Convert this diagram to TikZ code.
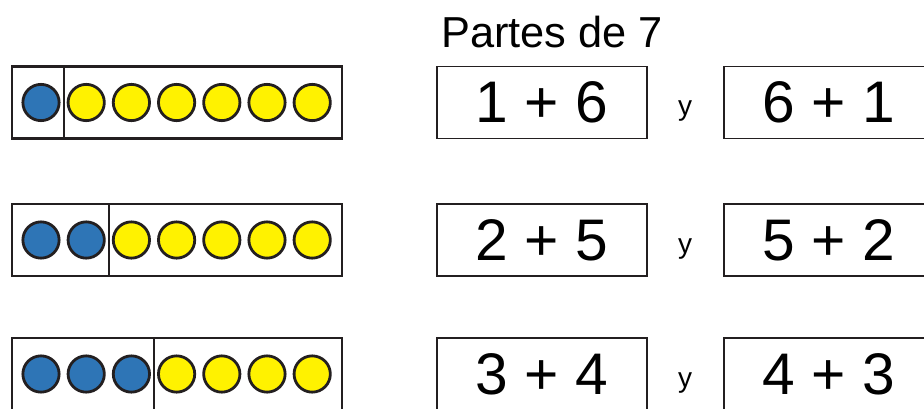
\documentclass[tikz,border=0pt]{standalone}
\usepackage{fontspec}
\setmainfont{Liberation Sans}

\definecolor{azul}{RGB}{46,117,182}
\definecolor{amarillo}{RGB}{255,242,0}
\definecolor{tinta}{RGB}{35,31,32}

\begin{document}
\begin{tikzpicture}[x=0.75pt,y=-0.75pt,line join=miter,
  marco/.style={draw=tinta,line width=2pt,minimum width=247.5pt,minimum height=54pt,inner sep=0pt},
  divisor/.style={draw=tinta,line width=1.5pt},
  caja/.style={draw=tinta,line width=1.4pt,minimum width=157pt,minimum height=54pt,inner sep=0pt,
    font=\fontsize{44}{44}\selectfont},
  bola/.style={circle,draw=tinta,line width=2.1pt,minimum size=27.2pt,inner sep=0pt},
  conj/.style={anchor=base,inner sep=0pt,font=\fontsize{21}{21}\selectfont}]

% marco de la figura (924 x 408)
\useasboundingbox (0,0) rectangle (924,408);
\clip (0,0) rectangle (924,408);

% titulo
\node[anchor=base west,inner sep=0pt,font=\fontsize{32.5}{32.5}\selectfont] (titulo) at (441,47) {Partes de 7};

% filas: numero / partes / centro vertical
\foreach \fila/\izq/\der/\yc in {1/6/102.5, 2/5/240, 3/4/374}{
  \pgfmathsetmacro{\xdiv}{41+45.2*(\fila-1)+22.6}
  % tira de siete bolas
  \node[marco] (r\fila) at (177,\yc) {};
  \draw[divisor] (\xdiv,\yc-36) -- (\xdiv,\yc+36);
  \foreach \i in {1,...,7}{
    \pgfmathsetmacro{\xb}{41+45.2*(\i-1)}
    \ifnum\i>\fila
      \node[bola,fill=amarillo] (b\fila-\i) at (\xb,\yc) {};
    \else
      \node[bola,fill=azul] (b\fila-\i) at (\xb,\yc) {};
    \fi
  }
  % sumas
  \node[caja] (s\fila) at (542,\yc) {\fila\ + \izq};
  \node[conj] (y\fila) at (685,\yc+13) {y};
  \node[caja] (t\fila) at (829,\yc) {\izq\ + \fila};
}

\end{tikzpicture}
\end{document}
